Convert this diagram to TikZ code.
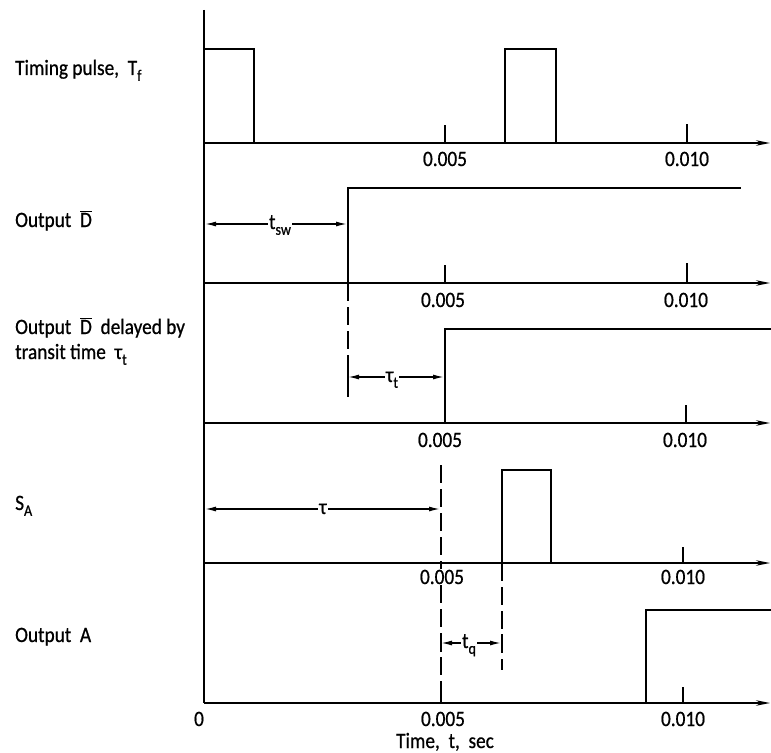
\documentclass[tikz,border=0pt]{standalone}
\usepackage{fontspec}
\setmainfont{Carlito}[FakeStretch=0.88, FakeBold=0.7]
\usetikzlibrary{arrows.meta}
\newcommand\lsub[1]{\raisebox{-0.55ex}{\fontsize{16}{16}\selectfont #1}}
\newcommand\Dbar{$\overline{\mbox{D}}$}
\tikzset{
  sig/.style={line width=2.3bp, line join=miter},
  ax/.style={line width=1.5bp, -{Stealth[length=14bp,width=5.5bp]}},
  vax/.style={line width=1.7bp},
  dim/.style={line width=1.4bp, {Latex[length=11bp,width=5bp]}-{Latex[length=11bp,width=5bp]}},
  dsh/.style={line width=1.9bp, dash pattern=on 18bp off 6bp},
  lbl/.style={font=\fontsize{22}{24}\selectfont, anchor=base west, inner sep=0pt},
  num/.style={font=\fontsize{22}{24}\selectfont, anchor=base, inner sep=1bp},
  dlab/.style={font=\fontsize{22}{24}\selectfont, anchor=base, inner sep=1bp, fill=white},
  tck/.style={line width=1.7bp},
  ebar/.style={line width=1.5bp}
}
\begin{document}
\begin{tikzpicture}[x=1bp,y=-1bp]
\fill[white] (0,0) rectangle (771,753);
\useasboundingbox (0,0) rectangle (771,753);

% vertical axis
\coordinate (vtop) at (204,10);
\coordinate (vbot) at (204,703);
\draw[vax] (vtop) -- (vbot);

% horizontal axes
\foreach \yy/\nm in {143/a1,283/a2,423/a3,563/a4,703/a5}{
  \coordinate (\nm s) at (204,\yy);
  \coordinate (\nm e) at (770,\yy);
  \draw[ax] (\nm s) -- (\nm e);
}

% ticks
\draw[tck] (445,143) -- (445,125);
\draw[tck] (687,143) -- (687,124);
\draw[tck] (445,283) -- (445,265);
\draw[tck] (687,283) -- (687,263);
\draw[tck] (686,423) -- (686,405);
\draw[tck] (683,563) -- (683,547);
\draw[tck] (441,703) -- (441,690);
\draw[tck] (683,703) -- (683,687);

% dashed lines
\draw[dsh] (348,283) -- (348,400);
\draw[dsh] (441,465) -- (441,690);
\draw[dsh] (502,563) -- (502,670);

% tick labels
\node[num] (l1a) at (445,166) {0.005};
\node[num] (l1b) at (687,166) {0.010};
\node[num] (l2a) at (443,307) {0.005};
\node[num] (l2b) at (686,307) {0.010};
\node[num] (l3a) at (440,447) {0.005};
\node[num] (l3b) at (685,447) {0.010};
\node[num,fill=white] (l4a) at (442,584) {0.005};
\node[num] (l4b) at (683,584) {0.010};
\node[num] (l5o) at (199,726) {0};
\node[num] (l5a) at (443,726) {0.005};
\node[num] (l5b) at (683,726) {0.010};
\node[lbl,anchor=base] (xl) at (445,748) {Time, \ t, \ sec};

% signals
\draw[sig] (204,49) -- (254,49) -- (254,143);
\draw[sig] (505,143) -- (505,49) -- (556,49) -- (556,143);
\draw[sig] (348,283) -- (348,188) -- (741,188);
\draw[sig] (445,423) -- (445,329) -- (771,329);
\draw[sig] (502,563) -- (502,470) -- (551,470) -- (551,563);
\draw[sig] (646,703) -- (646,610) -- (771,610);

% left labels
\node[lbl] (n1) at (15,75) {Timing pulse, \ T\lsub{f}};
\node[lbl] (n2) at (15,227) {Output \ \Dbar};
\node[lbl] (n3) at (15,334) {Output \ \Dbar\ \ delayed by};
\node[lbl] (n3b) at (15,359) {transit time \ τ\lsub{t}};
\node[lbl] (n4) at (15,510) {S\lsub{A}};
\node[lbl] (n5) at (15,642) {Output \ A};

% dimensions
\coordinate (sw1) at (205,224);
\coordinate (sw2) at (347,224);
\draw[dim] (sw1) -- (sw2);
\node[dlab] (tsw) at (280,229) {t\lsub{sw}};

\coordinate (tt1) at (348,377);
\coordinate (tt2) at (444,377);
\draw[dim] (tt1) -- (tt2);
\draw[ebar] (348,367) -- (348,387);
\node[dlab] (ttl) at (392,382) {τ\lsub{t}};

\coordinate (ta1) at (205,509);
\coordinate (ta2) at (440,509);
\draw[dim] (ta1) -- (ta2);
\node[dlab] (tal) at (323,514) {τ};

\coordinate (tq1) at (441,643);
\coordinate (tq2) at (501,643);
\draw[dim] (tq1) -- (tq2);
\draw[ebar] (441,634) -- (441,652);
\draw[ebar] (502,634) -- (502,652);
\node[dlab] (tql) at (469,648) {t\lsub{q}};
\end{tikzpicture}
\end{document}
